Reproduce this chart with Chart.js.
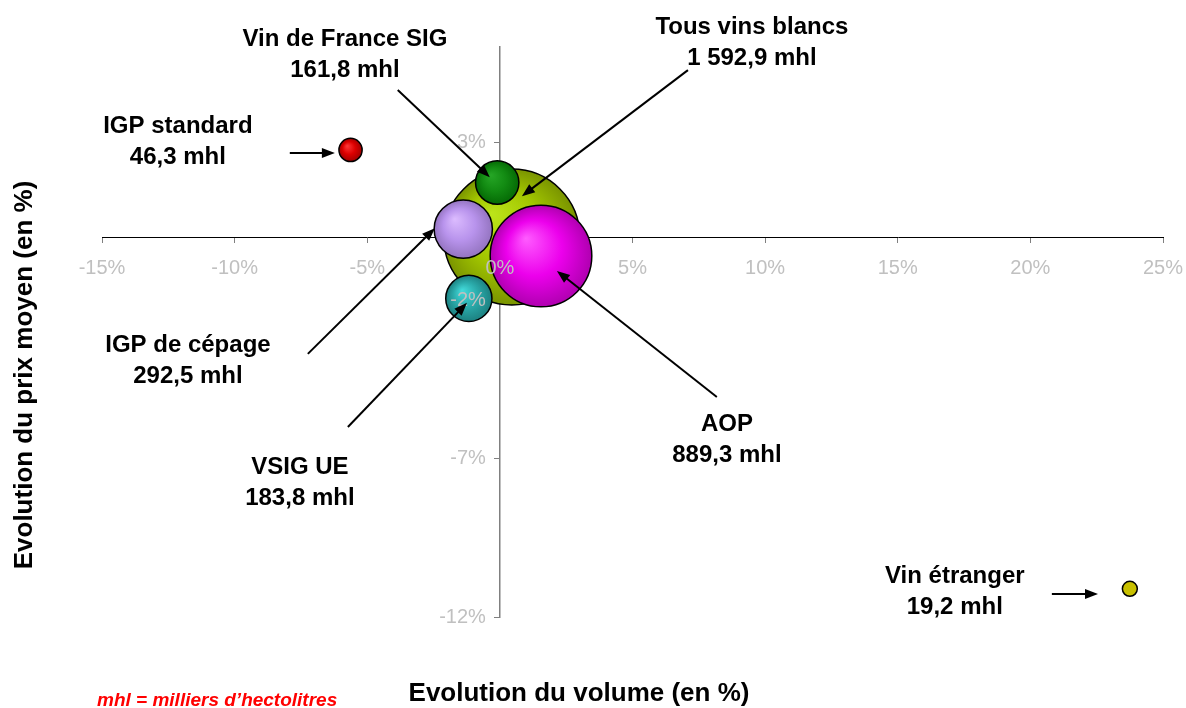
<!DOCTYPE html>
<html>
<head>
<meta charset="utf-8">
<script src="https://cdn.jsdelivr.net/npm/chart.js@4"></script>
<style>
  html, body { margin: 0; padding: 0; background: #fff; }
  #wrap { width: 1186px; height: 708px; position: relative; }
</style>
</head>
<body>
<div id="wrap"><canvas id="bubbles"></canvas></div>
<script>
// data (largest bubble first so it sits behind the others)
const categories = ['Tous vins blancs', 'AOP', 'IGP de cépage', 'VSIG UE', 'Vin de France SIG', 'IGP standard', 'Vin étranger'];
const volumeChange = [0.45, 1.55, -1.38, -1.17, -0.1, -5.63, 23.75];
const priceChange = [0.0, -0.6, 0.25, -1.94, 1.72, 2.75, -11.11];
const volumes = [1592.9, 889.3, 292.5, 183.8, 161.8, 46.3, 19.2];
const xTicks = [-15, -10, -5, 0, 5, 10, 15, 20, 25];
const yTicks = [3, -2, -7, -12];

// light / base / dark shade for each bubble
const shades = [
  ['#bce41a', '#a2c600', '#7a9400'],
  ['#ff5cff', '#ec00ec', '#b000b0'],
  ['#dcbcff', '#b893ec', '#9474c0'],
  ['#44dcdc', '#2aa9a9', '#1c8080'],
  ['#26a626', '#128a12', '#056a05'],
  ['#ff3a3a', '#dd0000', '#a00000'],
  ['#c8c000', '#c8c000', '#c8c000']
];

// label centre, arrow start and arrow tip, in axis units
const callouts = [
  { at: [9.5, 6.12], from: [7.09, 5.27], to: [0.83, 1.29] },
  { at: [8.56, -6.4], from: [8.18, -5.05], to: [2.15, -1.07] },
  { at: [-11.76, -3.9], from: [-7.24, -3.69], to: [-2.45, 0.28] },
  { at: [-7.54, -7.76], from: [-5.73, -6.0], to: [-1.24, -2.08] },
  { at: [-5.84, 5.76], from: [-3.85, 4.64], to: [-0.38, 1.89] },
  { at: [-12.14, 3.0], from: [-7.92, 2.65], to: [-6.22, 2.65] },
  { at: [17.15, -11.2], from: [20.81, -11.27], to: [22.55, -11.27] }
];

const FONT = 'Arial, "Liberation Sans", sans-serif';
const maxRadius = 68;

function fmtVolume(v) {
  const parts = v.toFixed(1).split('.');
  const int = parts[0].replace(/\B(?=(\d{3})+(?!\d))/g, ' ');
  return int + ',' + parts[1] + ' mhl';
}

function bubbleFill(c) {
  const i = c.dataIndex;
  if (c.type !== 'data') return '#999';
  const { x, y } = c.chart.scales;
  if (!x || !y) return shades[i][1];
  const px = x.getPixelForValue(c.raw.x);
  const py = y.getPixelForValue(c.raw.y);
  const r = c.raw.r;
  if (![px, py, r].every(Number.isFinite)) return shades[i][1];
  const g = c.chart.ctx.createRadialGradient(px - 0.3 * r, py - 0.35 * r, 0, px, py, r);
  g.addColorStop(0, shades[i][0]);
  g.addColorStop(0.55, shades[i][1]);
  g.addColorStop(1, shades[i][2]);
  return g;
}

function arrow(ctx, x1, y1, x2, y2) {
  const a = Math.atan2(y2 - y1, x2 - x1);
  const len = 13, w = 5;
  ctx.beginPath();
  ctx.moveTo(x1, y1);
  ctx.lineTo(x2 - len * 0.8 * Math.cos(a), y2 - len * 0.8 * Math.sin(a));
  ctx.stroke();
  ctx.beginPath();
  ctx.moveTo(x2, y2);
  ctx.lineTo(x2 - len * Math.cos(a) + w * Math.sin(a), y2 - len * Math.sin(a) - w * Math.cos(a));
  ctx.lineTo(x2 - len * Math.cos(a) - w * Math.sin(a), y2 - len * Math.sin(a) + w * Math.cos(a));
  ctx.closePath();
  ctx.fill();
}

const decorations = {
  id: 'decorations',
  afterDatasetsDraw(chart) {
    const { ctx, scales: { x, y } } = chart;
    const x0 = x.getPixelForValue(0), y0 = y.getPixelForValue(0);
    ctx.save();

    // tick labels sit on top of the bubbles, like in the original
    ctx.fillStyle = '#c0c0c0';
    ctx.font = '20px ' + FONT;
    ctx.textBaseline = 'middle';
    ctx.textAlign = 'center';
    xTicks.forEach(v => ctx.fillText(v + '%', x.getPixelForValue(v), y0 + 31));
    ctx.textAlign = 'right';
    yTicks.forEach(v => ctx.fillText(v + '%', x0 - 14, y.getPixelForValue(v)));

    // callout labels + arrows
    ctx.fillStyle = '#000';
    ctx.strokeStyle = '#000';
    ctx.lineWidth = 2;
    ctx.font = 'bold 24px ' + FONT;
    ctx.textAlign = 'center';
    callouts.forEach((c, i) => {
      const lx = x.getPixelForValue(c.at[0]), ly = y.getPixelForValue(c.at[1]);
      ctx.fillText(categories[i], lx, ly - 15.5);
      ctx.fillText(fmtVolume(volumes[i]), lx, ly + 15.5);
      arrow(ctx,
        x.getPixelForValue(c.from[0]), y.getPixelForValue(c.from[1]),
        x.getPixelForValue(c.to[0]), y.getPixelForValue(c.to[1]));
    });

    // axis titles
    ctx.font = 'bold 26px ' + FONT;
    ctx.fillText('Evolution du volume (en %)', 579, 694);
    ctx.save();
    ctx.translate(25, 375);
    ctx.rotate(-Math.PI / 2);
    ctx.fillText('Evolution du prix moyen (en %)', 0, 0);
    ctx.restore();

    // note
    ctx.fillStyle = '#ff0000';
    ctx.font = 'italic bold 19px ' + FONT;
    ctx.textAlign = 'left';
    ctx.fillText('mhl = milliers d\u2019hectolitres', 97, 701);

    ctx.restore();
  }
};

new Chart(document.getElementById('bubbles'), {
  type: 'bubble',
  data: {
    datasets: [{
      label: 'Vins blancs',
      data: categories.map((c, i) => ({
        x: volumeChange[i],
        y: priceChange[i],
        r: maxRadius * Math.sqrt(volumes[i] / volumes[0])
      })),
      backgroundColor: bubbleFill,
      borderColor: '#000',
      borderWidth: 1.5,
      clip: false
    }]
  },
  options: {
    responsive: true,
    maintainAspectRatio: false,
    animation: false,
    events: [],
    layout: { autoPadding: false, padding: { left: 102, right: 23, top: 47, bottom: 91 } },
    plugins: {
      legend: { display: false },
      tooltip: { enabled: false }
    },
    scales: {
      x: {
        type: 'linear',
        min: -15,
        max: 25,
        position: { y: 0 },
        afterBuildTicks: s => { s.ticks = xTicks.map(v => ({ value: v })); },
        ticks: { display: false },
        grid: { drawOnChartArea: false, tickLength: 5, color: '#808080' },
        border: { color: '#000', width: 1 }
      },
      y: {
        type: 'linear',
        min: -12,
        max: 6,
        position: { x: 0 },
        afterBuildTicks: s => { s.ticks = yTicks.map(v => ({ value: v })); },
        ticks: { display: false },
        grid: { drawOnChartArea: false, tickLength: 5, color: '#808080' },
        border: { color: '#808080', width: 1.5 }
      }
    }
  },
  plugins: [decorations]
});
</script>
</body>
</html>
